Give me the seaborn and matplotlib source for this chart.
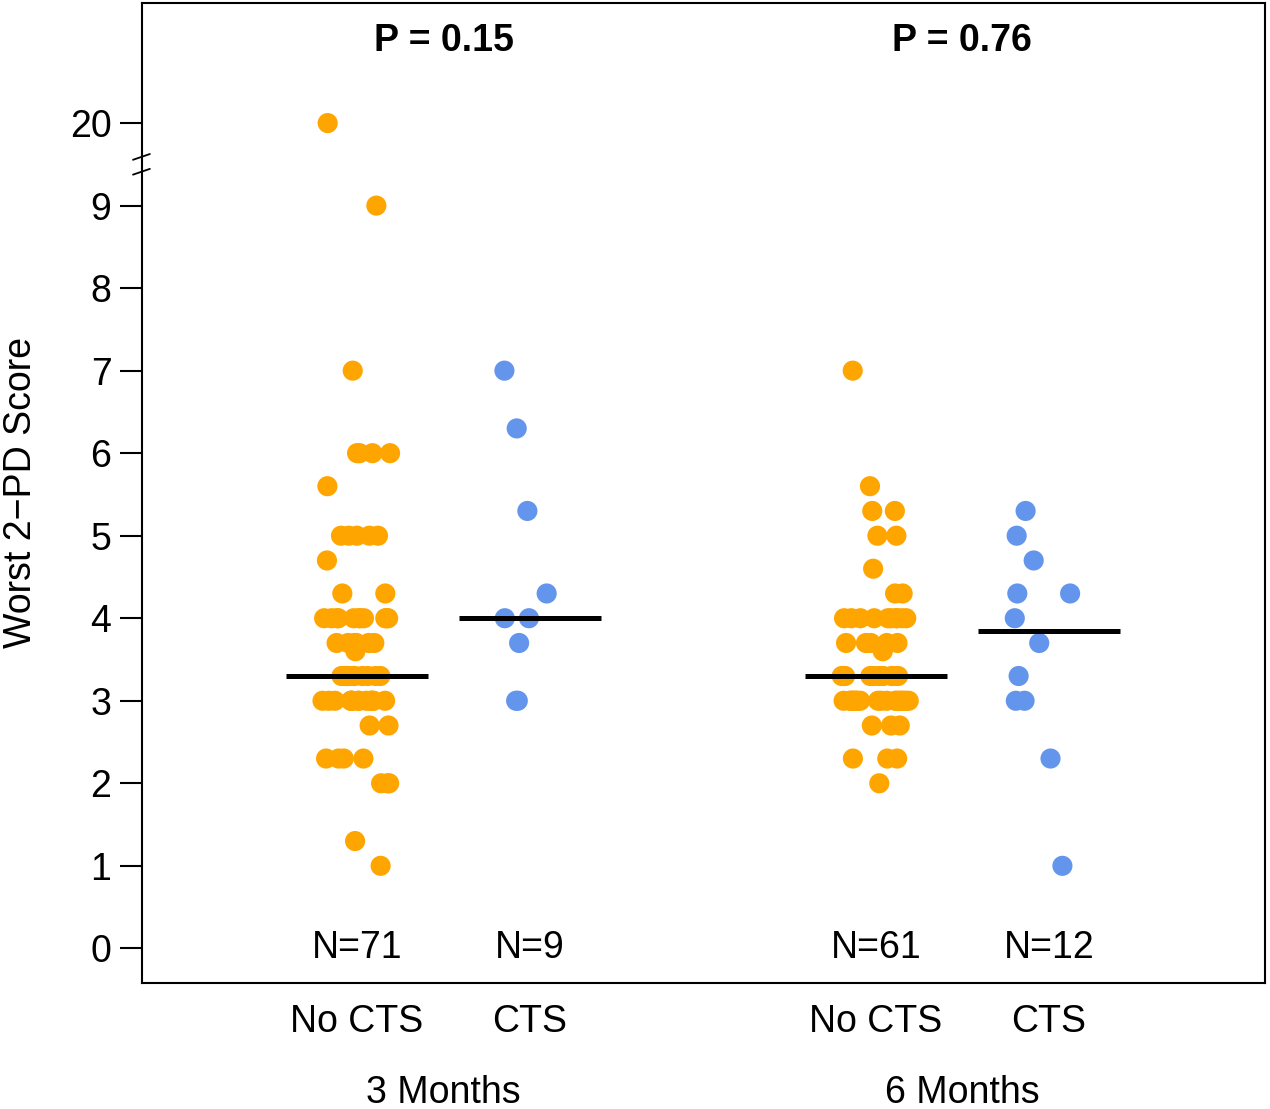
import numpy as np
import pandas as pd
import matplotlib
matplotlib.use("Agg")
import matplotlib.pyplot as plt
import matplotlib.transforms as mtransforms
import seaborn as sns

# ---------------- data ----------------
groups = ["No CTS 3M", "CTS 3M", "No CTS 6M", "CTS 6M"]
tick_labels = ["No CTS", "CTS", "No CTS", "CTS"]
period_labels = ["3 Months", "6 Months"]
n_labels = ["N=71", "N=9", "N=61", "N=12"]
p_labels = ["P = 0.15", "P = 0.76"]

no_cts_3m = ([20.0, 9.0, 7.0] + [6.0] * 4 + [5.6] + [5.0] * 5 + [4.7] + [4.3] * 2 +
             [4.0] * 11 + [3.7] * 6 + [3.6] + [3.3] * 11 + [3.0] * 15 + [2.7] * 2 +
             [2.3] * 4 + [2.0] * 3 + [1.3, 1.0])
cts_3m = [7.0, 6.3, 5.3, 4.3, 4.0, 4.0, 3.7, 3.0, 3.0]
no_cts_6m = ([7.0, 5.6] + [5.3] * 2 + [5.0] * 2 + [4.6] + [4.3] * 2 + [4.0] * 10 +
             [3.7] * 5 + [3.6] + [3.3] * 9 + [3.0] * 20 + [2.7] * 3 + [2.3] * 3 + [2.0])
cts_6m = [5.3, 5.0, 4.7, 4.3, 4.3, 4.0, 3.7, 3.3, 3.0, 3.0, 2.3, 1.0]

y_ticks = [0, 1, 2, 3, 4, 5, 6, 7, 8, 9, 20]

colors = {"No CTS 3M": "#FFA500", "CTS 3M": "#6495ED",
          "No CTS 6M": "#FFA500", "CTS 6M": "#6495ED"}


def broken(v):
    """Axis break: values above 9.5 are shifted down (20 -> 10)."""
    v = np.asarray(v, dtype=float)
    return np.where(v > 9.5, v - 10.0, v)


series = [no_cts_3m, cts_3m, no_cts_6m, cts_6m]
df = pd.concat([pd.DataFrame({"group": g, "score": s}) for g, s in zip(groups, series)],
               ignore_index=True)
df["y"] = broken(df["score"])

# ---------------- figure ----------------
sns.set_theme(style="white")
plt.rcParams["font.family"] = ["Liberation Sans", "DejaVu Sans"]
FS = 27

fig = plt.figure(figsize=(12.70, 11.09), dpi=100)
ax = fig.add_axes([142 / 1270, 1 - 983 / 1109, (1265 - 142) / 1270, (983 - 3) / 1109])

order = [groups[0], groups[1], "", groups[2], groups[3]]
np.random.seed(7)
sns.stripplot(data=df, x="group", y="y", hue="group", order=order, palette=colors,
              jitter=0.2, size=14.5, linewidth=0, alpha=1.0, legend=False, ax=ax, zorder=2)

pos = {g: order.index(g) for g in groups}

# median lines
for g, s in zip(groups, series):
    m = float(np.median(broken(s)))
    ax.plot([pos[g] - 0.41, pos[g] + 0.41], [m, m], color="black", lw=3.6,
            solid_capstyle="butt", zorder=3)

# N labels
for g, t in zip(groups, n_labels):
    ax.text(pos[g], 0, t, ha="center", va="center", fontsize=FS, color="black")

# P labels
for (a, b), t in zip([(groups[0], groups[1]), (groups[2], groups[3])], p_labels):
    ax.text((pos[a] + pos[b]) / 2, 11.0, t, ha="center", va="center", fontsize=FS,
            fontweight="bold", color="black")

ax.set_xlim(-1.243, 5.25)
ax.set_ylim(-0.42, 11.455)
ax.set_yticks(broken(y_ticks))
ax.set_yticklabels([str(v) for v in y_ticks], fontsize=FS)
ax.set_xticks([pos[g] for g in groups])
ax.set_xticklabels(tick_labels, fontsize=FS)
ax.tick_params(axis="y", which="both", left=True, length=16, width=1.5, pad=6,
               direction="out", color="black", labelcolor="black")
ax.tick_params(axis="x", length=0, pad=15, labelcolor="black")
ax.set_xlabel("")
ax.set_ylabel("Worst 2\u2212PD Score", fontsize=FS, color="black", labelpad=22)

for sp in ax.spines.values():
    sp.set_visible(True)
    sp.set_color("black")
    sp.set_linewidth(1.5)

# period labels under the tick labels
trans = mtransforms.blended_transform_factory(ax.transData, ax.transAxes)
for (a, b), t in zip([(groups[0], groups[1]), (groups[2], groups[3])], period_labels):
    ax.text((pos[a] + pos[b]) / 2, -0.112, t, ha="center", va="center",
            fontsize=FS, color="black", transform=trans)

# axis break marks
btrans = mtransforms.blended_transform_factory(ax.transAxes, ax.transData)
for yb in (9.59, 9.41):
    ax.plot([-0.008, 0.007], [yb - 0.035, yb + 0.035], color="black", lw=1.3,
            transform=btrans, clip_on=False, zorder=5)

fig.savefig("out.png", dpi=100)
